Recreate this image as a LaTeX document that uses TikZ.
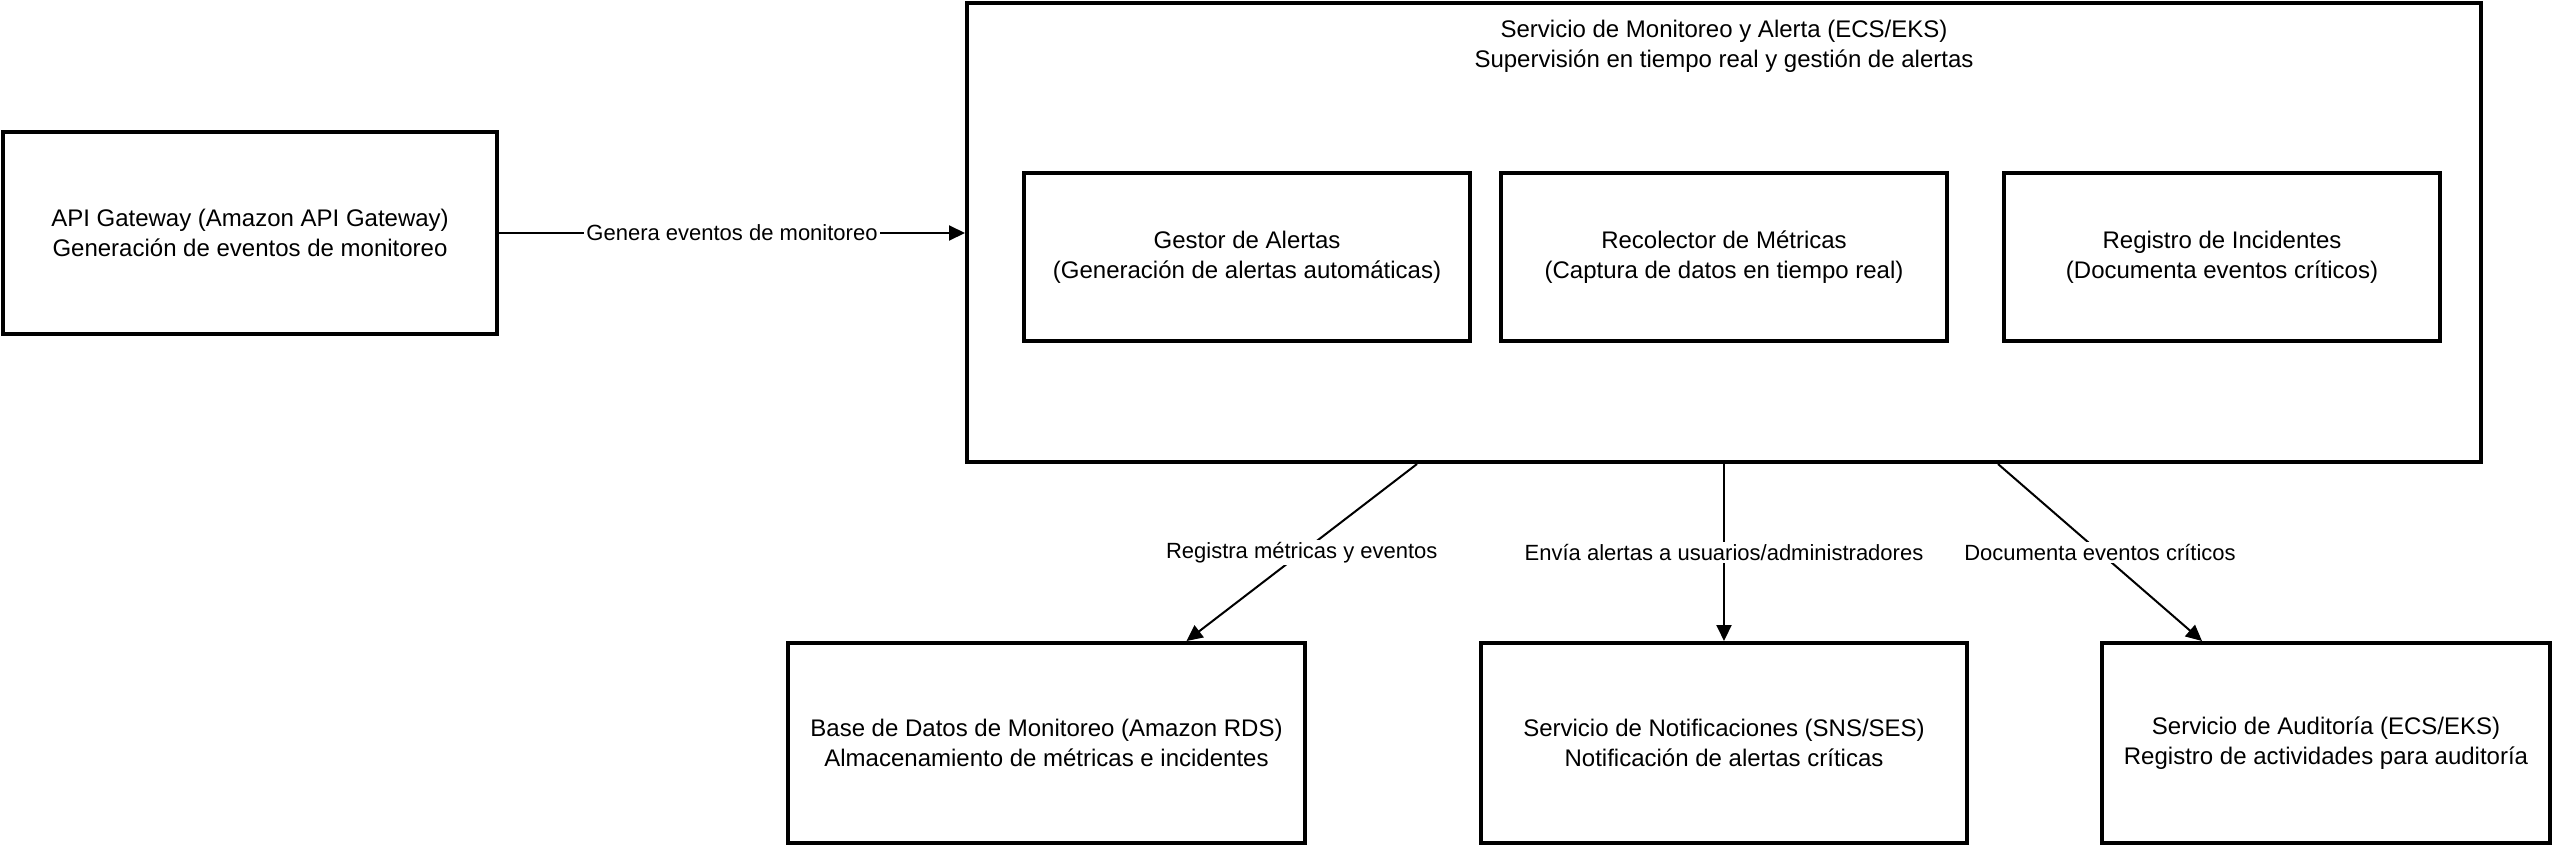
\documentclass[tikz,border=0pt]{standalone}
\usepackage{fontspec}
\setmainfont{Liberation Sans}
\usetikzlibrary{arrows.meta,calc}
\begin{document}
\begin{tikzpicture}[x=1pt,y=-1pt,
  box/.style={draw, line width=4pt, inner sep=0pt, align=center, font=\fontsize{24}{30}\selectfont},
  ttl/.style={align=center, inner sep=0pt, font=\fontsize{24}{30}\selectfont},
  conn/.style={line width=2pt, -{Triangle[length=16pt,width=15pt]}},
  lbl/.style={fill=white, inner sep=2pt, font=\fontsize{22}{26}\selectfont}]
\useasboundingbox (0,0) rectangle (2554,846);
% left
\node[box, minimum width=494pt, minimum height=202pt] (api) at (250,233)
  {API Gateway (Amazon API Gateway)\\Generación de eventos de monitoreo};
% container
\node[box, minimum width=1514pt, minimum height=459pt] (mon) at (1724,232.5) {};
\node[ttl] (monT) at (1724,46)
  {Servicio de Monitoreo y Alerta (ECS/EKS)\\Supervisión en tiempo real y gestión de alertas};
\node[box, minimum width=446pt, minimum height=168pt] (gest) at (1247,257)
  {Gestor de Alertas\\(Generación de alertas automáticas)};
\node[box, minimum width=446pt, minimum height=168pt] (reco) at (1724,257)
  {Recolector de Métricas\\(Captura de datos en tiempo real)};
\node[box, minimum width=436pt, minimum height=168pt] (regi) at (2222,257)
  {Registro de Incidentes\\(Documenta eventos críticos)};
% bottom
\node[box, minimum width=517pt, minimum height=200pt] (db) at (1046.5,743)
  {Base de Datos de Monitoreo (Amazon RDS)\\Almacenamiento de métricas e incidentes};
\node[box, minimum width=486pt, minimum height=200pt] (ns) at (1724,743)
  {Servicio de Notificaciones (SNS/SES)\\Notificación de alertas críticas};
\node[box, minimum width=448pt, minimum height=200pt] (au) at (2326,743)
  {Servicio de Auditoría (ECS/EKS)\\Registro de actividades para auditoría};
% connectors
\draw[conn] (api.east) -- node[lbl]{Genera eventos de monitoreo} (mon.west |- api.east);
\draw[conn] ([xshift=-307pt]mon.south) -- node[lbl]{Registra métricas y eventos} ([xshift=140pt]db.north);
\draw[conn] (mon.south) -- node[lbl]{Envía alertas a usuarios/administradores} (ns.north);
\draw[conn] ([xshift=274pt]mon.south) -- node[lbl]{Documenta eventos críticos} ([xshift=-124pt]au.north);
\end{tikzpicture}
\end{document}
